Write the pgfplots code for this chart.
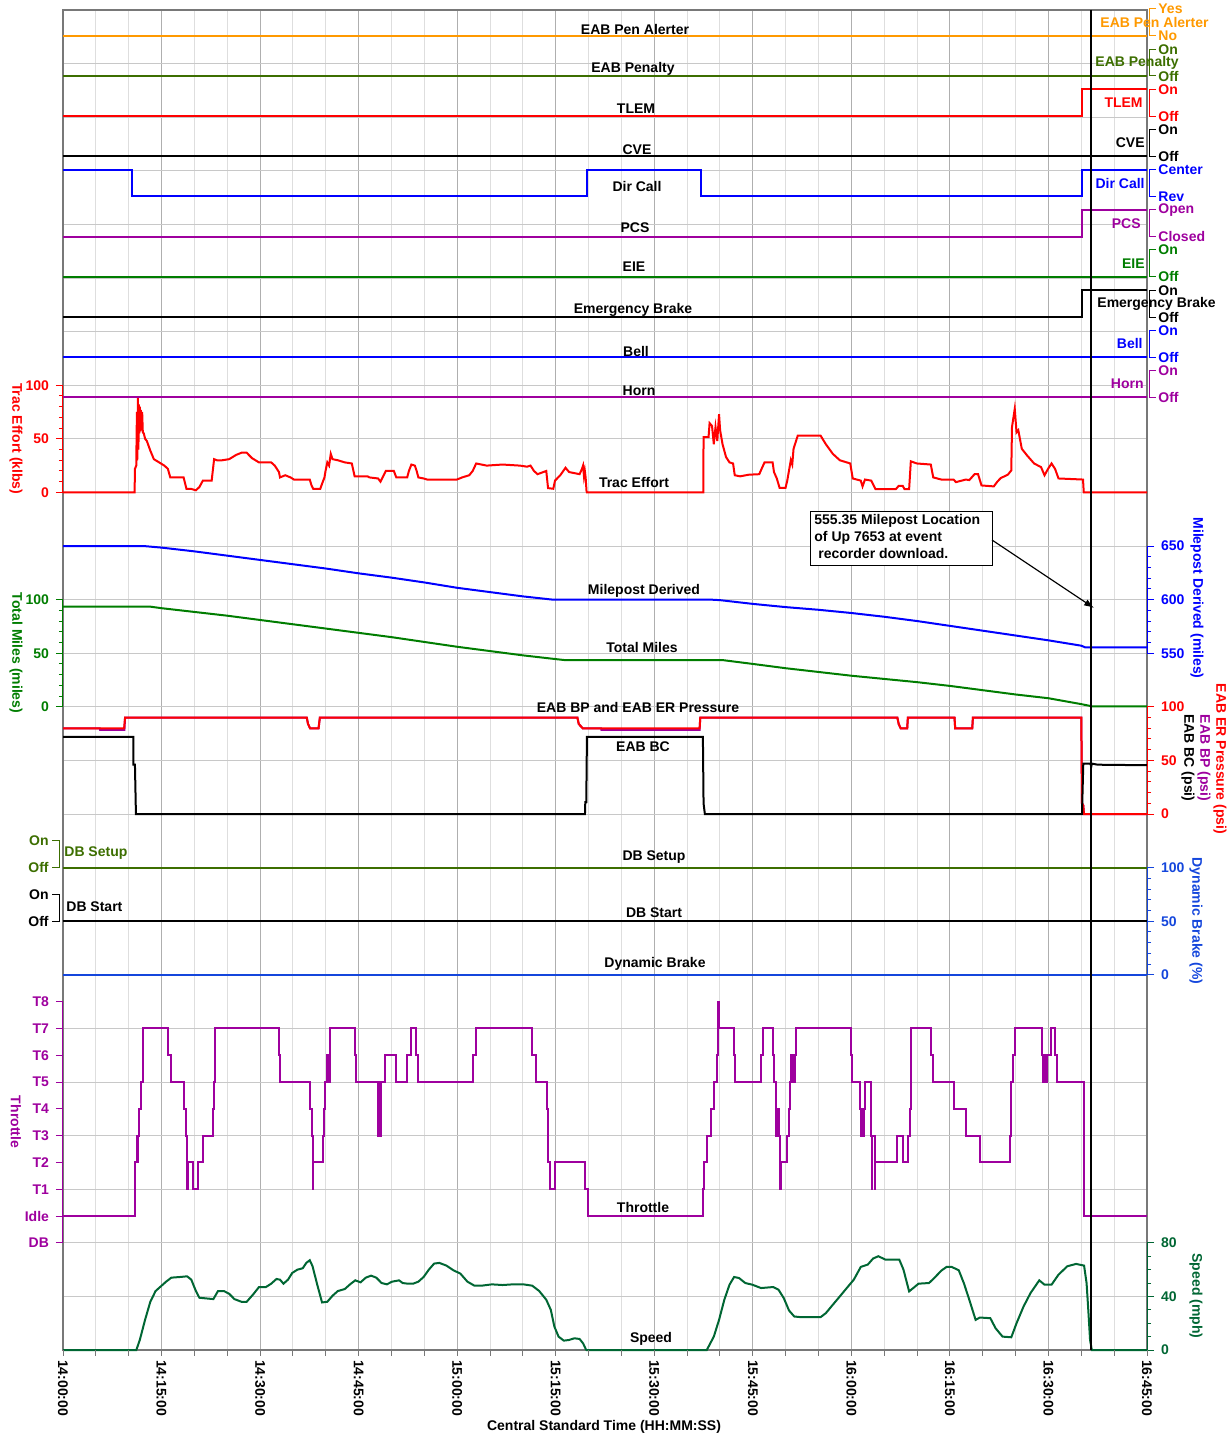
\documentclass[border=0pt]{standalone}
\usepackage{fontspec}
\setmainfont{Liberation Sans}
\usepackage{pgfplots}
\pgfplotsset{compat=1.18}
\usetikzlibrary{arrows.meta}
\definecolor{penor}{RGB}{255,153,0}
\definecolor{oliv}{RGB}{60,110,0}
\definecolor{rd}{RGB}{255,0,0}
\definecolor{bl}{RGB}{0,0,255}
\definecolor{pu}{RGB}{158,0,158}
\definecolor{gr}{RGB}{0,125,0}
\definecolor{spd}{RGB}{0,102,51}
\definecolor{dbb}{RGB}{20,70,220}
\definecolor{frm}{RGB}{120,120,120}
\definecolor{gmaj}{RGB}{175,175,175}
\definecolor{gmin}{RGB}{222,222,222}
\definecolor{ghor}{RGB}{200,200,200}
\newcommand\lab{\fontsize{7}{8.4}\selectfont\bfseries}
\newcommand\digplot[3]{\addplot[const plot, line width=1pt, color=#1] table[row sep=\\, x=t, y expr={26.8*\thisrow{s}-#2}] {#3};}
\pgfplotsset{ov/.style={at={(31.5pt,-675pt)}, anchor=south west, width=542pt, height=670pt, scale only axis,
  xmin=0, xmax=165, xtick=\empty, axis line style={draw=none}, tick align=outside,
  major tick length=3.5pt, minor tick length=2pt, clip=false,
  /pgf/number format/assume math mode=true, tick style={line width=0.5pt}}}
\newcommand\rbr[5]{%
  \draw[#1, line width=0.5pt] (1156,#2) -- (1149,#2) -- (1149,#3) -- (1156,#3);
  \node[lbl, text=#1, anchor=west] at (1158,#2) {#4};
  \node[lbl, text=#1, anchor=west] at (1158,#3) {#5};}
\begin{document}
\begin{tikzpicture}[lbl/.style={font=\lab, inner sep=0pt}]
% ---------------- main axis: time grid and on/off channels ----------------
\begin{axis}[at={(31.5pt,-675pt)}, anchor=south west, width=542pt, height=670pt, scale only axis,
  xmin=0, xmax=165, ymin=-1350, ymax=-10,
  xtick={0,15,...,165},
  xticklabels={14:00:00,14:15:00,14:30:00,14:45:00,15:00:00,15:15:00,15:30:00,15:45:00,16:00:00,16:15:00,16:30:00,16:45:00},
  minor xtick={5,10,20,25,35,40,50,55,65,70,80,85,95,100,110,115,125,130,140,145,155,160},
  ytick={-63.6,-117.2,-170.8,-224.4,-278,-331.6,-385.2,-438.8,-492.4,-546,-599.6,-653.2,-706.8,-760.4,-814,-867.6,-921.2,-974.8,-1028.4,-1082,-1135.6,-1189.2,-1242.8,-1296.4},
  yticklabels={},
  xmajorgrids, xminorgrids, ymajorgrids,
  major x grid style={gmaj, line width=0.5pt},
  minor x grid style={gmin, line width=0.5pt},
  major y grid style={ghor, line width=0.5pt},
  tick style={draw=none},
  axis line style={frm, line width=0.7pt},
  xticklabel style={rotate=-90, anchor=west, font=\lab},
  xticklabel shift=1.5pt,
  clip=false]
\digplot{penor}{35.8}{t s\\0 0\\165 0\\}
\digplot{oliv}{76.0}{t s\\0 0\\165 0\\}
\digplot{rd}{116.1}{t s\\0 0\\155.1 1\\165 1\\}
\digplot{black}{156.3}{t s\\0 0\\165 0\\}
\digplot{bl}{196.5}{t s\\0 1\\10.45 0\\79.8 1\\97.06 0\\155.1 1\\165 1\\}
\digplot{pu}{236.7}{t s\\0 0\\155.1 1\\165 1\\}
\digplot{gr}{276.8}{t s\\0 0\\165 0\\}
\digplot{black}{317.0}{t s\\0 0\\155.1 1\\165 1\\}
\digplot{bl}{357.2}{t s\\0 0\\165 0\\}
\digplot{pu}{397.3}{t s\\0 0\\165 0\\}
\digplot{oliv}{867.6}{t s\\0 0\\165 0\\}
\digplot{black}{921.2}{t s\\0 0\\165 0\\}
\end{axis}
% ---------------- Trac Effort ----------------
\begin{axis}[ov, ymin=-800, ymax=450, ytick pos=left, yticklabel pos=left,
  ytick={0,50,100}, yticklabels={0,50,100}, minor ytick={10,20,30,40,60,70,80,90},
  tick style={rd}, yticklabel style={font=\lab, text=rd}]
\addplot[rd, line width=1pt] coordinates {(0,0)(10.9,0)(10.95,22)(11.15,25)(11.25,75)(11.3,30)(11.4,88)(11.48,40)(11.55,82)(11.62,55)(11.7,80)(11.78,57)(11.86,77)(11.95,58)(12.05,75)(12.15,56)(12.3,55)(12.5,50)(12.76,48)(13.29,39)(13.83,31)(14.63,28)(15.43,25)(15.96,22)(16.33,14)(17.29,14)(18.36,14)(18.79,3.4)(19.43,3.4)(20.23,2)(20.76,5)(21.29,11)(22.63,11)(23.0,31)(23.43,30)(24.23,30)(25.29,31)(26.36,35)(27.16,37)(27.96,37)(28.76,32)(29.83,28)(31.69,28)(32.23,25)(32.87,19)(33.03,14)(33.83,16)(34.63,14)(35.16,12)(37.56,12)(37.83,6.5)(38.09,3.4)(39.16,3.4)(39.43,8)(39.8,14)(39.96,20)(40.23,28)(40.5,25)(40.76,36)(41.03,31)(41.83,30)(42.89,28)(43.96,27)(44.39,15)(46.36,15)(46.63,14)(47.96,13)(48.33,10)(48.65,14)(49.13,20)(50.36,20)(50.73,14)(52.39,14)(52.65,20)(53.03,26)(53.56,25)(53.83,20)(54.09,14)(54.89,13)(55.43,12)(59.96,12)(60.76,14)(61.83,16)(62.36,20)(62.89,27)(64.49,25)(66.89,26)(69.56,25)(70.63,24)(71.16,25)(71.69,20)(72.23,17)(73.56,20)(73.83,4)(74.63,3.4)(74.89,11)(75.69,16)(76.49,23)(77.03,19)(78.63,17)(79.0,22)(79.16,25)(79.3,15)(79.43,20)(79.55,14)(79.69,1)(79.75,0)(97.46,0)(97.5,51.5)(98.26,51.5)(98.42,64.6)(98.79,62)(99.06,45)(99.32,61)(99.59,48)(99.86,73)(100.02,58)(100.39,45)(100.92,33)(101.45,28)(101.99,27)(102.25,16)(103.05,15)(104.38,16.5)(105.98,17)(106.41,23)(106.78,28)(108.01,28)(108.22,19)(108.65,13)(109.07,4.3)(109.98,4.3)(110.24,11)(110.78,30)(111.0,26)(111.2,40.7)(111.58,48)(111.84,53)(115.31,53)(116.11,45)(117.17,36)(118.24,30)(119.83,27)(120.21,13)(121.43,11)(121.7,5.6)(122.07,12)(123.03,11)(123.67,3)(126.76,3)(127.19,6)(127.83,6)(128.09,3)(128.79,3)(129.05,29)(129.96,27)(132.09,26)(132.46,14)(133.69,12)(135.55,12)(135.92,9.6)(137.42,12)(137.95,11.5)(138.75,17)(139.28,17)(139.81,6.5)(141.68,5.6)(142.21,10)(142.74,13.4)(143.81,16.5)(144.34,20.5)(144.45,61)(144.87,78)(145.14,56)(145.41,58)(145.94,40.7)(146.74,34.5)(147.81,27)(148.87,23.6)(149.4,16)(149.94,22)(150.47,27)(151.0,22)(151.53,13)(155.26,12)(155.37,0)(165,0)};
\end{axis}
% ---------------- Milepost Derived ----------------
\begin{axis}[ov, ymin=-100, ymax=1150, ytick pos=right, yticklabel pos=right,
  ytick={550,600,650}, yticklabels={550,600,650}, minor ytick={560,570,580,590,610,620,630,640},
  tick style={bl}, yticklabel style={font=\lab, text=bl}]
\addplot[bl, line width=1pt] coordinates {(0,650)(12.2,650)(15,648.5)(20,645)(25,641)(30,637)(35,633)(40,629)(45,624.5)(50,620.5)(55,616)(60,611)(65,607)(70,603)(74.5,600)(98.5,600)(100,599.5)(105,596)(110,593)(115,590.5)(120,587.5)(125,584)(130,580)(135,575.5)(140,571)(145,566.5)(150,562)(155,557)(155.6,555.4)(165,555.4)};
\end{axis}
% ---------------- Total Miles ----------------
\begin{axis}[ov, ymin=-600, ymax=650, ytick pos=left, yticklabel pos=left,
  ytick={0,50,100}, yticklabels={0,50,100}, minor ytick={10,20,30,40,60,70,80,90},
  tick style={gr}, yticklabel style={font=\lab, text=gr}]
\addplot[gr, line width=1pt] coordinates {(0,93.5)(13.2,93.5)(15,92)(20,88.5)(25,85)(30,81)(35,77)(40,73)(45,69)(50,65)(55,60.5)(60,56)(65,52)(70,48)(75,44.5)(76.5,43.5)(100.5,43.5)(105,40)(110,36)(115,32.5)(120,29)(125,26)(130,23)(135,19.5)(140,15.5)(145,11.5)(150,8)(155,2.5)(156.6,0.5)(165,0.5)};
\end{axis}
% ---------------- EAB pressures ----------------
\begin{axis}[ov, ymin=-500, ymax=750, ytick pos=right, yticklabel pos=right,
  ytick={0,50,100}, yticklabels={0,50,100}, minor ytick={10,20,30,40,60,70,80,90},
  tick style={rd}, yticklabel style={font=\lab, text=rd}]
\addplot[pu, line width=1pt] coordinates {(0,80)(5.6,80)(5.65,78.5)(9.35,78.5)(9.45,90)(37.1,90)(37.3,84)(37.6,80)(38.9,80)(39.1,90)(78.3,90)(78.5,84)(79.1,80)(81.9,80)(81.95,78.5)(96.9,78.5)(97.0,90)(127.0,90)(127.2,84)(127.5,80)(128.5,80)(128.6,90)(135.7,90)(135.8,80)(138.4,80)(138.5,90)(155.0,90)(155.1,10)(155.3,8)(155.4,0)(165,0)};
\addplot[rd, line width=1pt] coordinates {(0,80)(9.3,80)(9.45,90)(37.1,90)(37.3,84)(37.6,80)(38.9,80)(39.1,90)(78.3,90)(78.5,84)(79.1,80)(96.9,80)(97.0,90)(127.0,90)(127.2,84)(127.5,80)(128.5,80)(128.6,90)(135.7,90)(135.8,80)(138.4,80)(138.5,90)(155.0,90)(155.1,10)(155.3,8)(155.4,0)(165,0)};
\addplot[black, line width=1pt] coordinates {(0,72)(10.7,72)(10.72,46)(10.95,46)(11.1,0)(79.45,0)(79.5,11)(79.65,11)(79.75,72)(97.4,72)(97.5,10)(97.7,0)(155.1,0)(155.3,47)(156.4,47)(156.5,44)(156.6,47)(157.5,46)(165,45.5)};
\end{axis}
% ---------------- Dynamic Brake ----------------
\begin{axis}[ov, ymin=-350, ymax=900, ytick pos=right, yticklabel pos=right,
  ytick={0,50,100}, yticklabels={0,50,100}, minor ytick={10,20,30,40,60,70,80,90},
  tick style={dbb}, yticklabel style={font=\lab, text=dbb}]
\addplot[dbb, line width=1pt] coordinates {(0,0)(165,0)};
\end{axis}
% ---------------- Throttle ----------------
\begin{axis}[ov, ymin=-5, ymax=45, ytick pos=left, yticklabel pos=left,
  ytick={-1,0,1,2,3,4,5,6,7,8}, yticklabels={DB,Idle,T1,T2,T3,T4,T5,T6,T7,T8},
  tick style={pu}, yticklabel style={font=\lab, text=pu}]
\addplot[pu, line width=1pt, const plot] coordinates {(0,0)(10.95,2)(11.27,3)(11.35,2)(11.42,3)(11.53,4)(11.85,5)(12.23,7)(15.96,6)(16.39,5)(18.47,4)(18.73,3)(18.89,1)(19.05,2)(19.85,1)(20.6,2)(21.24,3)(22.79,4)(23.0,5)(23.1,6)(23.21,7)(32.87,6)(33.03,5)(37.67,4)(37.88,3)(38.04,1)(38.12,2)(39.59,3)(39.8,4)(39.95,5)(40.12,6)(40.22,5)(40.32,6)(40.42,5)(40.6,7)(44.39,6)(44.55,5)(47.95,3)(48.05,5)(48.3,3)(48.4,5)(49.08,6)(50.63,5)(52.39,6)(52.92,7)(53.77,6)(53.99,5)(62.47,6)(62.84,7)(71.32,6)(72.07,5)(73.61,4)(73.83,2)(74.09,1)(74.89,2)(79.43,1)(79.85,0)(97.35,1)(97.57,2)(97.99,3)(98.63,4)(99.16,5)(99.48,6)(99.75,8)(99.9,7)(102.15,6)(102.31,5)(106.25,6)(106.62,7)(108.01,6)(108.17,5)(108.49,3)(108.6,4)(108.7,3)(108.8,4)(108.91,3)(109.18,1)(109.29,2)(110.24,3)(110.46,4)(110.67,5)(110.8,6)(110.9,5)(111.0,6)(111.1,5)(111.2,6)(111.3,5)(111.42,6)(111.58,7)(119.94,6)(120.1,5)(121.27,4)(121.4,3)(121.5,4)(121.6,3)(121.7,4)(121.8,3)(121.9,4)(122.07,5)(123.03,3)(123.08,1)(123.2,3)(123.55,1)(123.65,2)(126.92,3)(127.83,2)(128.68,3)(128.89,4)(129.0,7)(132.09,6)(132.46,5)(135.6,4)(137.47,3)(139.6,2)(144.13,3)(144.34,5)(144.61,6)(144.87,7)(148.98,6)(149.1,5)(149.2,6)(149.3,5)(149.45,6)(149.6,5)(149.78,6)(150.36,7)(151.0,6)(151.27,5)(155.37,0)(165,0)};
\end{axis}
% ---------------- Speed ----------------
\begin{axis}[ov, ymin=0, ymax=1000, ytick pos=right, yticklabel pos=right,
  ytick={0,40,80}, yticklabels={0,40,80}, minor ytick={10,20,30,50,60,70},
  tick style={spd}, yticklabel style={font=\lab, text=spd}]
\addplot[spd, line width=1pt] coordinates {(0,0)(11.16,0)(11.69,7.5)(12.49,22.5)(13.29,36)(14.09,44)(14.89,47.5)(15.69,51)(16.49,54)(17.83,54.5)(18.89,55)(19.53,52.5)(20.23,44)(20.76,39)(22.89,38)(23.59,44)(24.49,44)(25.29,42)(26.09,38)(27.16,36)(27.96,36)(29.03,42)(29.83,47)(30.89,47)(31.69,49.5)(32.49,53)(33.03,52.5)(33.56,49.5)(34.25,52.5)(34.89,57.5)(35.69,60)(36.49,61)(37.03,65)(37.56,67)(37.99,62.5)(38.63,50)(39.43,35.5)(40.23,36)(41.03,40.5)(41.83,44)(42.89,45.5)(43.69,49)(44.49,52)(45.29,50.5)(46.09,54)(46.89,55.5)(47.69,54)(48.49,50)(49.29,49)(50.09,51)(51.16,52)(51.69,50)(52.49,49.5)(53.29,49.5)(54.09,51)(54.89,54.5)(55.69,60)(56.49,64.5)(57.29,65)(58.36,63)(59.43,59.5)(60.49,57)(61.56,51)(62.63,48)(63.69,48)(65.29,49)(66.89,48.5)(68.49,49)(70.09,49)(71.43,48)(72.49,44)(73.56,37.5)(74.25,30)(74.79,17.5)(75.43,10)(76.23,7)(77.03,7.5)(77.83,8.75)(78.63,8.25)(79.16,5)(79.59,0.5)(79.7,0)(97.99,0)(99.06,10)(99.86,22.5)(100.66,37.5)(101.45,48.75)(102.15,54.5)(102.89,53.75)(103.85,50)(104.92,48.75)(106.25,46.25)(108.11,47)(108.91,45)(109.71,38.75)(110.51,29.5)(111.31,25)(112.38,24.5)(115.31,24.5)(116.11,27.5)(117.17,33.75)(118.24,40)(119.3,46.25)(120.37,52.5)(121.43,62)(122.5,63.75)(123.3,68.25)(124.1,70)(125.16,67.5)(126.49,67.5)(127.29,67.5)(127.93,60)(128.79,43.75)(129.42,46.25)(130.22,49.5)(131.82,50)(132.62,53.75)(133.69,59.25)(134.49,62)(135.28,62)(136.35,59.5)(137.15,49.5)(137.95,37.5)(138.91,22.5)(139.55,24.25)(141.15,23.75)(141.95,16.25)(143.01,10)(144.34,9.5)(145.14,20)(146.21,32.5)(147.27,42.5)(148.6,52)(149.4,48.75)(150.47,48.75)(151.53,56.25)(152.87,62.5)(154.2,64.25)(155.42,63)(155.8,50)(156.06,30)(156.33,7.5)(156.6,0)(165,0)};
\end{axis}
% ---------------- decorations in pixel coordinates ----------------
\begin{scope}[x=0.5pt,y=-0.5pt]
% band spines
\draw[rd, line width=0.6pt] (62.5,385.2) -- (62.5,492.4);
\draw[gr, line width=0.6pt] (62.5,599.6) -- (62.5,706.8);
\draw[pu, line width=0.6pt] (62.5,1001.6) -- (62.5,1242.8);
\draw[bl, line width=0.6pt] (1147.5,546) -- (1147.5,653.2);
\draw[rd, line width=0.6pt] (1147.5,706.8) -- (1147.5,814);
\draw[dbb, line width=0.6pt] (1147.5,867.6) -- (1147.5,974.8);
\draw[spd, line width=0.6pt] (1147.5,1242.8) -- (1147.5,1350);
% bottom ticks
\foreach \i in {0,...,33} {\draw[frm, line width=0.5pt] ({63+32.8485*\i},1350) -- ++(0,6);}
% right brackets of on/off channels
\rbr{penor}{9.0}{35.8}{Yes}{No}
\rbr{oliv}{49.2}{76.0}{On}{Off}
\rbr{rd}{89.3}{116.1}{On}{Off}
\rbr{black}{129.5}{156.3}{On}{Off}
\rbr{bl}{169.7}{196.5}{Center}{Rev}
\rbr{pu}{209.9}{236.7}{Open}{Closed}
\rbr{gr}{250.0}{276.8}{On}{Off}
\rbr{black}{290.2}{317.0}{On}{Off}
\rbr{bl}{330.4}{357.2}{On}{Off}
\rbr{pu}{370.5}{397.3}{On}{Off}
% right channel names
\node[lbl, text=penor, anchor=west] at (1100,22.4) {EAB Pen Alerter};
\node[lbl, text=oliv, anchor=west] at (1095,62.6) {EAB Penalty};
\node[lbl, text=rd, anchor=east] at (1143,102.7) {TLEM};
\node[lbl, text=black, anchor=east] at (1145,142.9) {CVE};
\node[lbl, text=bl, anchor=east] at (1145,183.1) {Dir Call};
\node[lbl, text=pu, anchor=east] at (1141,223.3) {PCS};
\node[lbl, text=gr, anchor=east] at (1145,263.4) {EIE};
\node[lbl, text=black, anchor=west] at (1097,303.6) {Emergency Brake};
\node[lbl, text=bl, anchor=east] at (1143,343.8) {Bell};
\node[lbl, text=pu, anchor=east] at (1144,383.9) {Horn};
% centre labels
\node[lbl] at (635,29) {EAB Pen Alerter};
\node[lbl] at (633,69) {EAB Penalty};
\node[lbl] at (636,109) {TLEM};
\node[lbl] at (637,150) {CVE};
\node[lbl] at (637,186) {Dir Call};
\node[lbl] at (635,228) {PCS};
\node[lbl] at (634,267) {EIE};
\node[lbl] at (633,310) {Emergency Brake};
\node[lbl] at (636,351) {Bell};
\node[lbl] at (639,391) {Horn};
\node[lbl] at (634,482) {Trac Effort};
\node[lbl] at (644,591) {Milepost Derived};
\node[lbl] at (642,647) {Total Miles};
\node[lbl] at (638,707) {EAB BP and EAB ER Pressure};
\node[lbl] at (643,747) {EAB BC};
\node[lbl] at (654,857) {DB Setup};
\node[lbl] at (654,913) {DB Start};
\node[lbl] at (655,964) {Dynamic Brake};
\node[lbl] at (643,1207) {Throttle};
\node[lbl] at (651,1339) {Speed};
% DB setup / start left brackets
\draw[oliv, line width=0.5pt] (52,840.8) -- (59,840.8) -- (59,867.6) -- (52,867.6);
\node[lbl, text=oliv, anchor=east] at (49,840.8) {On};
\node[lbl, text=oliv, anchor=east] at (49,867.6) {Off};
\node[lbl, text=oliv, anchor=west] at (64,853) {DB Setup};
\draw[black, line width=0.5pt] (52,894.4) -- (59,894.4) -- (59,921.2) -- (52,921.2);
\node[lbl, anchor=east] at (49,894.4) {On};
\node[lbl, anchor=east] at (49,921.2) {Off};
\node[lbl, anchor=west] at (66,907) {DB Start};
% axis titles
\node[lbl, text=rd, rotate=-90] at (16,438.8) {Trac Effort (klbs)};
\node[lbl, text=gr, rotate=-90] at (16,653) {Total Miles (miles)};
\node[lbl, text=pu, rotate=-90] at (16,1122) {Throttle};
\node[lbl, text=bl, rotate=-90] at (1197,598) {Milepost Derived (miles)};
\node[lbl, text=rd, rotate=-90] at (1220,759) {EAB ER Pressure (psi)};
\node[lbl, text=pu, rotate=-90] at (1204,758) {EAB BP (psi)};
\node[lbl, text=black, rotate=-90] at (1188,758) {EAB BC (psi)};
\node[lbl, text=dbb, rotate=-90] at (1196,921) {Dynamic Brake (\%)};
\node[lbl, text=spd, rotate=-90] at (1196,1296) {Speed (mph)};
\node[lbl] at (604,1427) {Central Standard Time (HH:MM:SS)};
% event line and annotation
\draw[black, line width=0.55pt] (1091,10) -- (1091,1350);
\draw[black, line width=0.5pt, fill=white] (810,511) rectangle (992,565);
\node[lbl, anchor=north west, align=left, font=\fontsize{7}{8.5}\selectfont\bfseries] at (814,514) {555.35 Milepost Location\\of Up 7653 at event\\\hspace*{2pt}recorder download.};
\draw[-{Latex[length=5pt,width=3.5pt]}, line width=0.6pt] (992,540) -- (1094,608);
\end{scope}
\pgfresetboundingbox
\path[use as bounding box] (0pt,0pt) rectangle (615.5pt,-719.5pt);
\end{tikzpicture}
\end{document}
